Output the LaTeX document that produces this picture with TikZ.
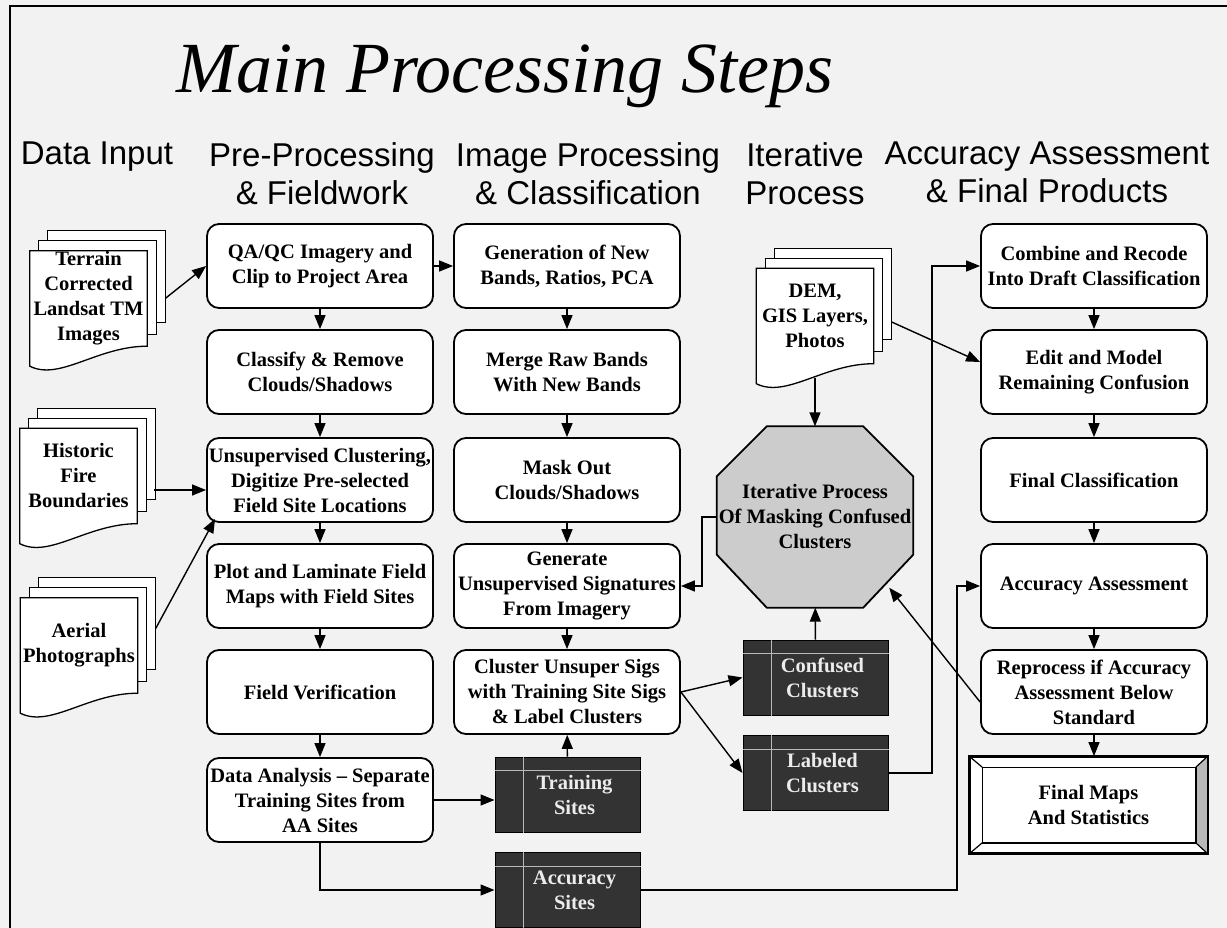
\documentclass[tikz,border=0pt]{standalone}
\usepackage{fontspec}
\setmainfont{Liberation Serif}
\setsansfont{Liberation Sans}
\usepackage{tikz}
\usetikzlibrary{arrows.meta}
\pgfdeclarelayer{paper}
\pgfdeclarelayer{background}
\pgfsetlayers{paper,background,main}
\newcommand\boxfont{\bfseries\fontsize{20.5}{25}\selectfont}
\newcommand\headfont{\sffamily\fontsize{33}{38}\selectfont}
\newcommand\titlefont{\itshape\fontsize{72}{80}\selectfont}
\newcommand\docstack[1]{%
  \begin{pgfonlayer}{background}
    \foreach \s in {2,1}
      \draw[line width=1.3pt,fill=white] ([shift={(\s*9,-\s*10)}]#1.north west) rectangle ([shift={(\s*9,-\s*12)}]#1.south east);
    \draw[line width=1.3pt,fill=white] (#1.north west) -- (#1.north east) -- (#1.south east)
      .. controls +(-50,0) and +(30,15) .. ([shift={(0,20)}]#1.south west) -- cycle;
  \end{pgfonlayer}}

\begin{document}
\begin{tikzpicture}[x=1pt,y=-1pt,>={Triangle[length=14pt,width=11pt]},
  stepbox/.style={draw,line width=1.8pt,rounded corners=12pt,fill=white,minimum width=226pt,
    minimum height=84pt,inner xsep=2pt,inner ysep=2pt,align=center,font=\boxfont},
  docnode/.style={minimum width=117pt,minimum height=95pt,inner sep=0pt,align=center,font=\boxfont},
  darkbox/.style={draw=black,line width=1pt,fill=black!80,text=gray!15,minimum width=145pt,
    minimum height=75pt,inner sep=0pt,align=center,font=\boxfont},
  headtext/.style={anchor=north,inner sep=0pt,align=center,font=\headfont},
  conn/.style={line width=1.4pt}]
\useasboundingbox (0,0) rectangle (1227,928);
\begin{pgfonlayer}{paper}
  \fill[gray!10] (0,0) rectangle (1227,928);
\end{pgfonlayer}
\draw[line width=1.2pt] (10,928) -- (10,6) -- (1227,6);

\node[anchor=base,font=\titlefont] (title) at (505,93) {Main Processing Steps};
\node[headtext] (hinput) at (97,142) {Data Input};
\node[headtext] (hprep) at (322,142) {Pre-Processing\\\& Fieldwork};
\node[headtext] (himage) at (588,142) {Image Processing\\\& Classification};
\node[headtext] (hiter) at (805,142) {Iterative\\Process};
\node[headtext] (hacc) at (1047,142) {Accuracy Assessment\\\& Final Products};

\node[docnode] (terrain) at (88.5,298.5) {Terrain\\Corrected\\Landsat TM\\Images};
\node[docnode] (historic) at (78.5,476) {Historic\\Fire\\Boundaries};
\node[docnode] (aerial) at (79,645.5) {Aerial\\Photographs};
\node[docnode] (dem) at (815,316) {DEM,\\GIS Layers,\\Photos};
\foreach \d in {terrain,historic,aerial,dem}
  \docstack{\d};

\node[stepbox] (qaqc) at (320,266) {QA/QC Imagery and\\Clip to Project Area};
\node[stepbox] (classify) at (320,372) {Classify \& Remove\\Clouds/Shadows};
\node[stepbox] (unsup) at (320,480) {Unsupervised Clustering,\\Digitize Pre-selected\\Field Site Locations};
\node[stepbox] (plot) at (320,586) {Plot and Laminate Field\\Maps with Field Sites};
\node[stepbox] (fieldver) at (320,692) {Field Verification};
\node[stepbox] (dataan) at (320,800) {Data Analysis -- Separate\\Training Sites from\\AA Sites};

\node[stepbox] (gen) at (567,266) {Generation of New\\Bands, Ratios, PCA};
\node[stepbox] (merge) at (567,372) {Merge Raw Bands\\With New Bands};
\node[stepbox] (mask) at (567,480) {Mask Out\\Clouds/Shadows};
\node[stepbox] (generate) at (567,586) {Generate\\Unsupervised Signatures\\From Imagery};
\node[stepbox] (cluster) at (567,692) {Cluster Unsuper Sigs\\with Training Site Sigs\\\& Label Clusters};
\node[darkbox] (training) at (567.5,794.5) {\hspace*{14pt}Training\\\hspace*{14pt}Sites};
\node[darkbox] (accsites) at (567.5,890) {\hspace*{14pt}Accuracy\\\hspace*{14pt}Sites};

\node[minimum width=196pt,minimum height=181pt,inner sep=0pt,align=center,font=\boxfont] (oct) at (815,517)
  {Iterative Process\\Of Masking Confused\\Clusters};
\begin{pgfonlayer}{background}
  \filldraw[fill=gray!40,line width=1.8pt] ([shift={(50,0)}]oct.north west) -- ([shift={(-50,0)}]oct.north east)
    -- ([shift={(0,50)}]oct.north east) -- ([shift={(0,-53)}]oct.south east) -- ([shift={(-50,0)}]oct.south east)
    -- ([shift={(50,0)}]oct.south west) -- ([shift={(0,-53)}]oct.south west) -- ([shift={(0,50)}]oct.north west) -- cycle;
\end{pgfonlayer}
\node[darkbox] (confused) at (815.5,677.5) {\hspace*{14pt}Confused\\\hspace*{14pt}Clusters};
\node[darkbox] (labeled) at (815.5,773) {\hspace*{14pt}Labeled\\\hspace*{14pt}Clusters};
\foreach \n in {training,accsites,confused,labeled} {
  \draw[gray!55,line width=1pt] ([shift={(0,14)}]\n.north west) -- ([shift={(0,14)}]\n.north east);
  \draw[gray!55,line width=1pt] ([shift={(29,0)}]\n.north west) -- ([shift={(29,0)}]\n.south west);
}

\node[stepbox] (combine) at (1094,266) {Combine and Recode\\Into Draft Classification};
\node[stepbox] (edit) at (1094,372) {Edit and Model\\Remaining Confusion};
\node[stepbox] (finalc) at (1094,480) {Final Classification};
\node[stepbox] (aa) at (1094,586) {Accuracy Assessment};
\node[stepbox] (reproc) at (1094,692) {Reprocess if Accuracy\\Assessment Below\\Standard};
\node[draw,line width=1.8pt,fill=white,minimum width=237pt,minimum height=96pt,align=center,font=\boxfont]
  (finalmaps) at (1088.5,805) {Final Maps\\And Statistics};
\fill[gray!55] (finalmaps.north east) -- (finalmaps.south east) -- ([shift={(-12,-11)}]finalmaps.south east)
  -- ([shift={(-12,11)}]finalmaps.north east) -- cycle;
\draw[line width=1.8pt] (finalmaps.north west) rectangle (finalmaps.south east);
\draw[line width=1.2pt] ([shift={(13,11)}]finalmaps.north west) rectangle ([shift={(-12,-11)}]finalmaps.south east);
\foreach \c/\d in {north west/{13,11},north east/{-12,11},south west/{13,-11},south east/{-12,-11}}
  \draw[line width=1.2pt] ([shift={(\d)}]finalmaps.\c) -- (finalmaps.\c);

\foreach \a/\b in {qaqc/classify,classify/unsup,unsup/plot,plot/fieldver,fieldver/dataan,
  gen/merge,merge/mask,mask/generate,generate/cluster,training/cluster,confused/oct,
  combine/edit,edit/finalc,finalc/aa,aa/reproc,qaqc/gen}
  \draw[conn,->] (\a) -- (\b);
\draw[conn,->] (reproc.south) -- (reproc.south |- finalmaps.north);
\draw[conn,->] ([shift={(18,0)}]terrain.east) -- (qaqc.west);
\draw[conn,->] ([shift={(17,14)}]historic.east) -- ([shift={(0,10)}]unsup.west);
\draw[conn,->] ([shift={(18,-17)}]aerial.east) -- ([shift={(9,-4)}]unsup.south west);
\draw[conn,->] (dataan.east) -- (dataan.east -| training.west);
\draw[conn,->] (dataan.south) |- (accsites.west);
\draw[conn,->] (cluster.east) -- (confused.west);
\draw[conn,->] (cluster.east) -- (labeled.west);
\draw[conn,->] ([shift={(0,14)}]dem.south) -- (oct.north);
\draw[conn,->] ([shift={(18,6)}]dem.east) -- ([shift={(0,-10)}]edit.west);
\draw[conn,->] (oct.west) -| ([shift={(21,0)}]generate.east) -- (generate.east);
\draw[conn,->] (labeled.east) -| ([shift={(-48,0)}]combine.west) -- (combine.west);
\draw[conn,->] (accsites.east) -| ([shift={(-23,0)}]aa.west) -- (aa.west);
\draw[conn,->] ([shift={(0,10)}]reproc.west) -- ([shift={(-24,-20)}]oct.south east);
\end{tikzpicture}
\end{document}
